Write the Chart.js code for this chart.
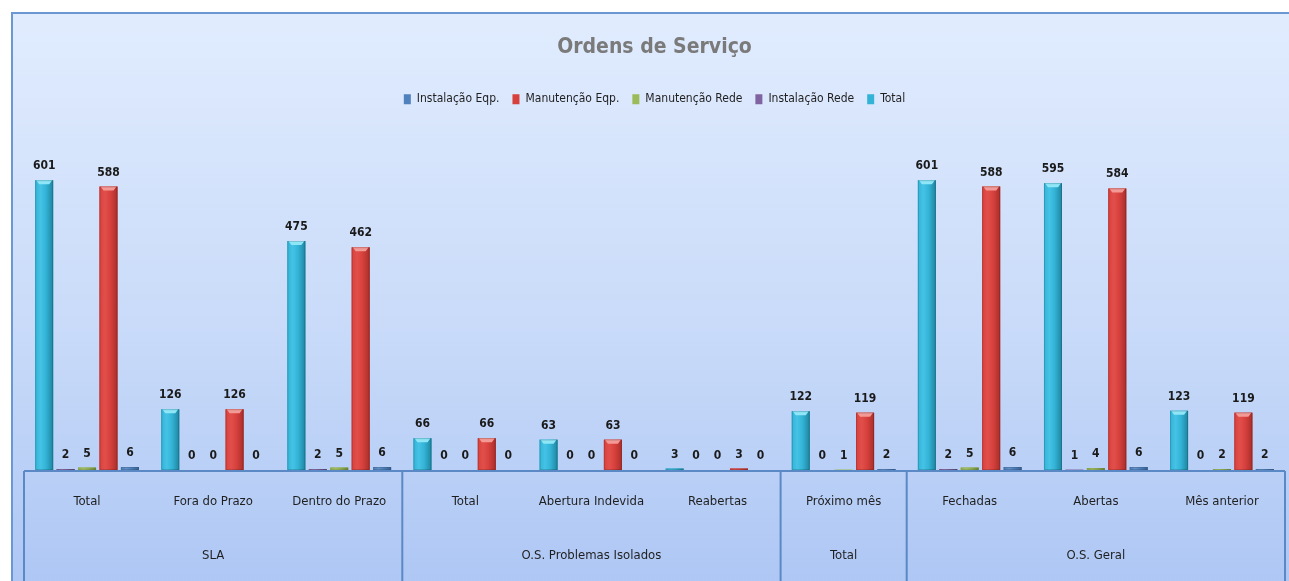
<!DOCTYPE html>
<html>
<head>
<meta charset="utf-8">
<script src="https://cdn.jsdelivr.net/npm/chart.js@4.4.1/dist/chart.umd.min.js"></script>
<style>
html,body{margin:0;padding:0;background:#fff;overflow:hidden;}
canvas{display:block;}
</style>
</head>
<body>
<canvas id="c" width="1289" height="581"></canvas>
<script>
// ---- data ----
const categories = ['Total','Fora do Prazo','Dentro do Prazo','Total','Abertura Indevida','Reabertas','Próximo mês','Fechadas','Abertas','Mês anterior'];
const groups = ['SLA','O.S. Problemas Isolados','Total','O.S. Geral'];
const groupSizes = [3,3,1,3];
const seriesNames = ['Total','Instalação Rede','Manutenção Rede','Manutenção Eqp.','Instalação Eqp.'];
const totalVals    = [601,126,475,66,63,3,122,601,595,123];
const instRedeVals = [2,0,2,0,0,0,0,2,1,0];
const manRedeVals  = [5,0,5,0,0,0,1,5,4,2];
const manEqpVals   = [588,126,462,66,63,3,119,588,584,119];
const instEqpVals  = [6,0,6,0,0,0,2,6,6,2];
const chartTitle = 'Ordens de Serviço';

const FONT = "'Liberation Sans Narrow', 'DejaVu Sans Condensed', 'Arial Narrow', sans-serif";
const colors = {
  'Total':           {base:'#33b3d6', light:'#45c3e6', dark:'#1f849f', cap:'#8fe6f7'},
  'Instalação Rede': {base:'#8064a2', light:'#9479b5', dark:'#5f4a7c', cap:'#b9a4d3'},
  'Manutenção Rede': {base:'#9bbb59', light:'#afcd6d', dark:'#76903f', cap:'#d0e6a0'},
  'Manutenção Eqp.': {base:'#d7413d', light:'#e24f4a', dark:'#a82e2b', cap:'#f39a96'},
  'Instalação Eqp.': {base:'#4f81bd', light:'#6593cc', dark:'#3a6496', cap:'#a3c1e8'}
};
const seriesData = [totalVals, instRedeVals, manRedeVals, manEqpVals, instEqpVals];

const datasets = seriesNames.map((n,i)=>({
  label:n,
  data:seriesData[i],
  backgroundColor:colors[n].base,
  borderColor:colors[n].dark,
  borderWidth:0,
  categoryPercentage:0.85,
  barPercentage:0.84
}));

const bgPlugin = {
  id:'bg',
  beforeDraw(chart){
    const ctx = chart.ctx, W = chart.width, H = chart.height;
    ctx.save();
    ctx.fillStyle = '#ffffff';
    ctx.fillRect(0,0,W,H);
    const g = ctx.createLinearGradient(0,12,0,H);
    g.addColorStop(0,'#e1ecfe');
    g.addColorStop(0.55,'#c9dbf9');
    g.addColorStop(1,'#aec7f4');
    ctx.fillStyle = g;
    ctx.fillRect(11,12,W,H);
    ctx.strokeStyle = '#6b98d3';
    ctx.lineWidth = 2;
    ctx.beginPath();
    ctx.moveTo(12,H+5); ctx.lineTo(12,13); ctx.lineTo(W+5,13);
    ctx.stroke();
    ctx.restore();
  }
};

const barStylePlugin = {
  id:'barStyle',
  afterDatasetsDraw(chart){
    const ctx = chart.ctx;
    ctx.save();
    chart.data.datasets.forEach((ds,di)=>{
      const meta = chart.getDatasetMeta(di);
      const c = colors[ds.label];
      meta.data.forEach((el)=>{
        const w = el.width, x0 = el.x - w/2, top = el.y, h = el.base - el.y;
        if (h <= 0.5) return;
        const g = ctx.createLinearGradient(x0,0,x0+w,0);
        g.addColorStop(0,c.base);
        g.addColorStop(0.3,c.light);
        g.addColorStop(0.6,c.base);
        g.addColorStop(1,c.dark);
        ctx.fillStyle = g;
        ctx.fillRect(x0,top,w,h);
        if (h > 6) {
          ctx.fillStyle = c.cap;
          ctx.beginPath();
          ctx.moveTo(x0+1,top); ctx.lineTo(x0+w-1,top);
          ctx.lineTo(x0+w-4,top+4); ctx.lineTo(x0+4,top+4);
          ctx.closePath();
          ctx.fill();
        }
        ctx.strokeStyle = 'rgba(0,0,0,0.15)';
        ctx.lineWidth = 1;
        ctx.strokeRect(x0+0.5,top+0.5,w-1,h-1);
      });
    });
    ctx.restore();
  },
  afterDraw(chart){
    const ctx = chart.ctx;
    ctx.save();
    ctx.font = "bold 12px " + FONT;
    ctx.fillStyle = '#1a1a1a';
    ctx.textAlign = 'center';
    ctx.textBaseline = 'alphabetic';
    chart.data.datasets.forEach((ds,di)=>{
      const meta = chart.getDatasetMeta(di);
      meta.data.forEach((el,i)=>{
        ctx.fillText(String(ds.data[i]), el.x, el.y - 11);
      });
    });
    ctx.restore();
  }
};

const axisBoxPlugin = {
  id:'axisBox',
  afterDraw(chart){
    const ctx = chart.ctx, xs = chart.scales.x, ca = chart.chartArea, H = chart.height;
    const cw = xs.getPixelForValue(1) - xs.getPixelForValue(0);
    const edge = i => xs.getPixelForValue(i) - cw/2;
    const y0 = ca.bottom + 1;
    ctx.save();
    ctx.strokeStyle = '#5b89c6';
    ctx.lineWidth = 2;
    ctx.beginPath();
    ctx.moveTo(edge(0), y0); ctx.lineTo(edge(categories.length), y0);
    let idx = 0;
    const bounds = [0];
    groupSizes.forEach(s=>{ idx += s; bounds.push(idx); });
    bounds.forEach(b=>{ ctx.moveTo(edge(b), y0); ctx.lineTo(edge(b), H+5); });
    ctx.stroke();
    ctx.fillStyle = '#1f1f1f';
    ctx.textAlign = 'center';
    ctx.textBaseline = 'middle';
    ctx.font = "13px " + FONT;
    categories.forEach((c,i)=>{ ctx.fillText(c, xs.getPixelForValue(i), y0 + 31); });
    groups.forEach((g,gi)=>{
      const a = edge(bounds[gi]), b = edge(bounds[gi+1]);
      ctx.fillText(g, (a+b)/2, y0 + 85);
    });
    ctx.restore();
  }
};

new Chart(document.getElementById('c'), {
  type:'bar',
  data:{ labels:categories, datasets },
  options:{
    responsive:false,
    animation:false,
    layout:{ padding:{ left:24, right:4, top:0, bottom:111 } },
    scales:{
      x:{ display:false, grid:{display:false} },
      y:{ display:false, min:0, max:736, grid:{display:false} }
    },
    plugins:{
      tooltip:{enabled:false},
      title:{
        display:true, text:chartTitle, color:'#7a7a7a',
        font:{ family:FONT, size:21, weight:'bold' },
        padding:{ top:35, bottom:20 }
      },
      legend:{
        display:true, reverse:true, position:'top',
        labels:{ boxWidth:7, boxHeight:10, padding:13, color:'#1f1f1f',
                 font:{ family:FONT, size:12 } }
      }
    }
  },
  plugins:[bgPlugin, barStylePlugin, axisBoxPlugin]
});
</script>
</body>
</html>
